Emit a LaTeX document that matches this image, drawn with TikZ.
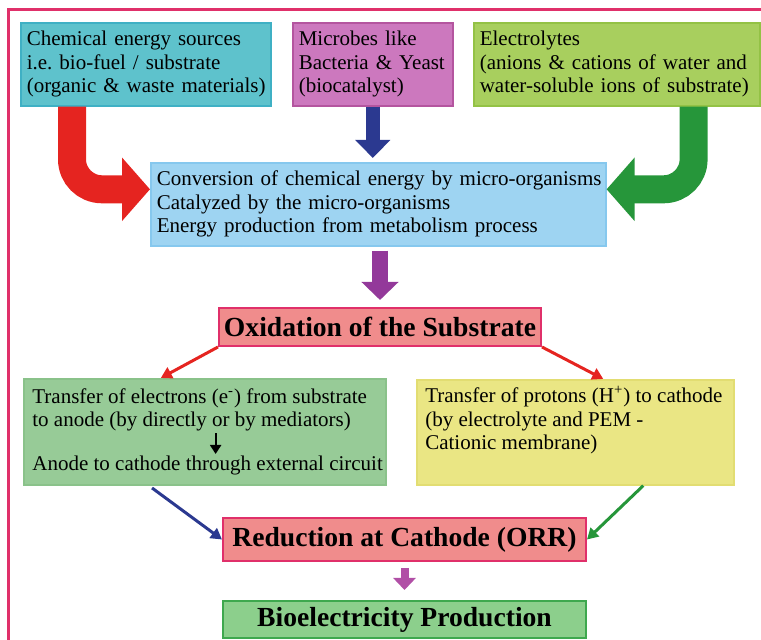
\documentclass[tikz,border=0pt]{standalone}
\usepackage{fontspec}
\setmainfont{Liberation Serif}
\usetikzlibrary{arrows.meta}
\frenchspacing

\definecolor{framecol}{HTML}{E0306A}
\definecolor{tealfill}{HTML}{5EC2CC}
\definecolor{tealline}{HTML}{3FB0C4}
\definecolor{pinkfill}{HTML}{CC78BE}
\definecolor{pinkline}{HTML}{B4559F}
\definecolor{limefill}{HTML}{A8CF5E}
\definecolor{limeline}{HTML}{93C245}
\definecolor{skyfill}{HTML}{9ED4F2}
\definecolor{skyline}{HTML}{86C8EE}
\definecolor{salmonfill}{HTML}{F08C8C}
\definecolor{greenfill}{HTML}{97CB97}
\definecolor{greenline}{HTML}{8AC28A}
\definecolor{yellowfill}{HTML}{EAE684}
\definecolor{yellowline}{HTML}{E2DD72}
\definecolor{biofill}{HTML}{8CCF8C}
\definecolor{bioline}{HTML}{3EA84E}
\definecolor{redarr}{HTML}{E52420}
\definecolor{bluearr}{HTML}{2B3990}
\definecolor{greenarr}{HTML}{26963A}
\definecolor{purparr}{HTML}{93399A}
\definecolor{magarr}{HTML}{B14FA6}

\tikzset{
	box/.style={draw, line width=0.8pt, anchor=north west, align=left, inner xsep=3pt, inner ysep=0pt, font=\fontsize{10.5}{11.75}\selectfont},
	txt/.style={anchor=north west, align=left, inner sep=0pt, font=\fontsize{10.5}{11.5}\selectfont},
	headbox/.style={draw, line width=1pt, anchor=north west, align=center, inner sep=0pt, font=\fontsize{13.8}{15}\selectfont\bfseries},
	bigarrow/.style={line width=14pt, rounded corners=15pt, -{Triangle[length=14pt,width=31pt]}},
	midarrow/.style={line width=7pt, -{Triangle[length=9pt,width=17pt]}},
	thinarrow/.style={line width=1.5pt, -{Triangle[length=5.5pt,width=6pt]}},
}

\begin{document}
\begin{tikzpicture}[x=0.5pt, y=-0.5pt]
	%%%%% START %%%%%
	\useasboundingbox (0,0) rectangle (761,640);
	\draw[framecol, line width=1.5pt] (8,640) -- (8,10) -- (761,10);

	% inputs
	\node[box, fill=tealfill, draw=tealline, minimum width=125pt, minimum height=41.5pt, text width=119pt] (chem) at (20,22) {Chemical energy sources\\i.e. bio-fuel / substrate\\\mbox{(organic \& waste materials)}};
	\node[box, fill=pinkfill, draw=pinkline, minimum width=80pt, minimum height=41.5pt, text width=74pt] (micro) at (292,22) {Microbes like\\Bacteria \& Yeast\\(biocatalyst)};
	\node[box, fill=limefill, draw=limeline, minimum width=143pt, minimum height=41.5pt, text width=137pt] (elyt) at (473,22) {Electrolytes\\\mbox{(anions \& cations of water and}\\\mbox{water-soluble ions of substrate)}};

	\node[box, fill=skyfill, draw=skyline, minimum width=227.5pt, minimum height=41.5pt, text width=221.5pt] (conv) at (150,162) {\mbox{Conversion of chemical energy by micro-organisms}\\Catalyzed by the micro-organisms\\Energy production from metabolism process};

	\draw[bigarrow, redarr] ([xshift=26pt]chem.south west) |- ([yshift=7.5pt]conv.west);
	\draw[bigarrow, greenarr] ([xshift=-33.5pt]elyt.south east) |- ([yshift=7.5pt]conv.east);
	\draw[midarrow, bluearr, shorten >=2pt] (micro.south) -- (micro.south |- conv.north);

	% oxidation
	\node[headbox, fill=salmonfill, draw=framecol, minimum width=161pt, minimum height=19pt] (oxid) at (218,307) {Oxidation of the Substrate};
	\draw[midarrow, purparr, line width=8pt, -{Triangle[length=9pt,width=18pt]}, shorten <=2pt, shorten >=3.5pt] (oxid.north |- conv.south) -- (oxid.north);

	\node[box, fill=greenfill, draw=greenline, minimum width=181pt, minimum height=53pt] (elecbox) at (23,378) {};
	\node[txt] (elec) at (32,388) {\mbox{Transfer of electrons (e\textsuperscript{-}) from substrate}\\to anode (by directly or by mediators)};
	\node[txt] (circ) at (32,456) {Anode to cathode through external circuit};
	\draw[line width=1pt, -{Triangle[length=4.5pt,width=5.5pt]}, shorten <=1pt, shorten >=1pt] ([xshift=4pt]circ.north |- elec.south) -- ([xshift=4pt]circ.north);

	\node[box, fill=yellowfill, draw=yellowline, minimum width=158.5pt, minimum height=52.5pt, inner xsep=4pt] (prot) at (416,379) {\parbox[t][46pt][t]{150pt}{Transfer of protons (H\textsuperscript{+}) to cathode\\(by electrolyte and PEM -\\Cationic membrane)}};

	\draw[thinarrow, redarr] (oxid.south west) -- ([xshift=-22pt]elecbox.north);
	\draw[thinarrow, redarr] (oxid.south east) -- ([xshift=14pt]prot.north);

	% cathode
	\node[headbox, fill=salmonfill, draw=framecol, minimum width=181.5pt, minimum height=21.5pt] (redu) at (222,517) {Reduction at Cathode (ORR)};
	\draw[thinarrow, bluearr, shorten <=2pt] ([xshift=-28pt]elecbox.south) -- (redu.west);
	\draw[thinarrow, greenarr] ([xshift=34pt]prot.south) -- (redu.east);

	\node[headbox, fill=biofill, draw=bioline, minimum width=181.5pt, minimum height=18.5pt] (bio) at (222,600) {Bioelectricity Production};
	\draw[magarr, line width=4pt, -{Triangle[length=6pt,width=11pt]}, shorten <=3pt, shorten >=5pt] (redu.south) -- (bio.north);

	%%%%% END %%%%%
\end{tikzpicture}
\end{document}
